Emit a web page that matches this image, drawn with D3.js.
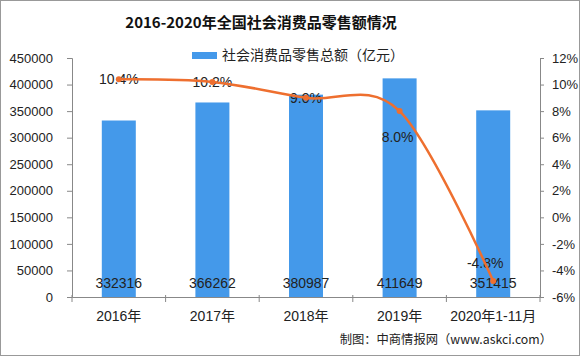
<!DOCTYPE html>
<html><head><meta charset="utf-8">
<script src="https://cdn.jsdelivr.net/npm/d3@7"></script>
<style>body{margin:0;background:#fff}svg{display:block}</style>
</head><body>
<script>
const categories = ["2016年","2017年","2018年","2019年","2020年1-11月"];
const salesValues = [332316, 366262, 380987, 411649, 351415];
const growthRates = [10.4, 10.2, 9.0, 8.0, -4.8];
const leftTicks = [0,50000,100000,150000,200000,250000,300000,350000,400000,450000];
const rightTicks = [-6,-4,-2,0,2,4,6,8,10,12];
const lineLabelDy = [0, 0, 0, 26, -18];
const title = "2016-2020年全国社会消费品零售额情况";
const legendLabel = "社会消费品零售总额（亿元）";
const source = "制图：中商情报网（www.askci.com）";

const W = 580, H = 356;
const plot = {left: 72, right: 540, top: 58, bottom: 297};
const barColor = "#4499ea", lineColor = "#ee6f2f", axisColor = "#888";
const fontNum = "'Liberation Sans', Arial, sans-serif";
const fontCJK = "'Liberation Sans', 'Noto Sans CJK SC', sans-serif";

const svg = d3.select("body").append("svg").attr("width", W).attr("height", H);
svg.append("rect").attr("x",0.5).attr("y",0.5).attr("width",W-1).attr("height",H-1)
  .attr("fill","#fff").attr("stroke","#999");

const x = d3.scaleBand().domain(categories).range([plot.left, plot.right]).paddingInner(0).paddingOuter(0);
const yL = d3.scaleLinear().domain([0,450000]).range([plot.bottom, plot.top]);
const yR = d3.scaleLinear().domain([-6,12]).range([plot.bottom, plot.top]);
const barW = 34;

// title
svg.append("text").attr("x",261).attr("y",28).attr("text-anchor","middle")
  .attr("font-family","'Noto Sans CJK SC', sans-serif").attr("font-weight","bold")
  .attr("font-size",15).attr("fill","#111").text(title);

// legend
svg.append("rect").attr("x",192).attr("y",52).attr("width",25).attr("height",7).attr("fill",barColor);
svg.append("text").attr("x",222).attr("y",60).attr("font-family","'Noto Sans CJK SC', sans-serif")
  .attr("font-size",14).attr("fill","#222").text(legendLabel);

// bars
svg.append("g").selectAll("rect").data(salesValues).join("rect")
  .attr("x",(d,i)=>x(categories[i]) + x.bandwidth()/2 - barW/2)
  .attr("y",d=>yL(d)).attr("width",barW).attr("height",d=>yL(0)-yL(d))
  .attr("fill",barColor);

// axes
const gL = svg.append("g").attr("transform",`translate(${plot.left},0)`)
  .call(d3.axisLeft(yL).tickValues(leftTicks).tickSize(5).tickPadding(14).tickFormat(d3.format("d")));
const gR = svg.append("g").attr("transform",`translate(${plot.right},0)`)
  .call(d3.axisRight(yR).tickValues(rightTicks).tickSize(4).tickPadding(8).tickFormat(d=>d+"%"));
const gX = svg.append("g").attr("transform",`translate(0,${plot.bottom})`)
  .call(d3.axisBottom(x).tickSize(0).tickPadding(14));
[gL,gR,gX].forEach(g=>{
  g.select(".domain").attr("stroke",axisColor);
  g.selectAll(".tick line").attr("stroke",axisColor);
  g.selectAll("text").attr("fill","#222").attr("font-family",fontNum).attr("font-size",13);
});
gX.selectAll("text").attr("font-family",fontCJK).attr("font-size",14).attr("dy","0.71em");
// category boundary ticks
const bounds = categories.map(c=>x(c)).concat([plot.right]);
svg.append("g").selectAll("line").data(bounds).join("line")
  .attr("x1",d=>d).attr("x2",d=>d).attr("y1",plot.bottom-2).attr("y2",plot.bottom+5)
  .attr("stroke",axisColor);

// bar value labels
svg.append("g").selectAll("text").data(salesValues).join("text")
  .attr("x",(d,i)=>x(categories[i]) + x.bandwidth()/2).attr("y",yL(0)-14)
  .attr("dy","0.35em").attr("text-anchor","middle")
  .attr("font-family",fontNum).attr("font-size",14).attr("fill","#222").text(d=>d);

// line labels
svg.append("g").selectAll("text").data(growthRates).join("text")
  .attr("x",(d,i)=>x(categories[i]) + x.bandwidth()/2 - (i===4?8:0) - (i===3?2:0))
  .attr("y",(d,i)=>yR(d) + lineLabelDy[i]).attr("dy","0.35em").attr("text-anchor","middle")
  .attr("font-family",fontNum).attr("font-size",14).attr("fill","#222").text(d=>d.toFixed(1)+"%");

// line
const line = d3.line().x((d,i)=>x(categories[i]) + x.bandwidth()/2).y(d=>yR(d)).curve(d3.curveCardinal.tension(0));
svg.append("path").datum(growthRates).attr("d",line).attr("fill","none")
  .attr("stroke",lineColor).attr("stroke-width",2.5);
svg.append("g").selectAll("circle").data(growthRates).join("circle")
  .attr("cx",(d,i)=>x(categories[i]) + x.bandwidth()/2).attr("cy",d=>yR(d)).attr("r",3)
  .attr("fill",lineColor);

// source
svg.append("text").attr("x",552).attr("y",344).attr("text-anchor","end")
  .attr("font-family","'Noto Sans CJK SC', sans-serif").attr("font-size",12.3).attr("fill","#222").text(source);
</script>
</body></html>
